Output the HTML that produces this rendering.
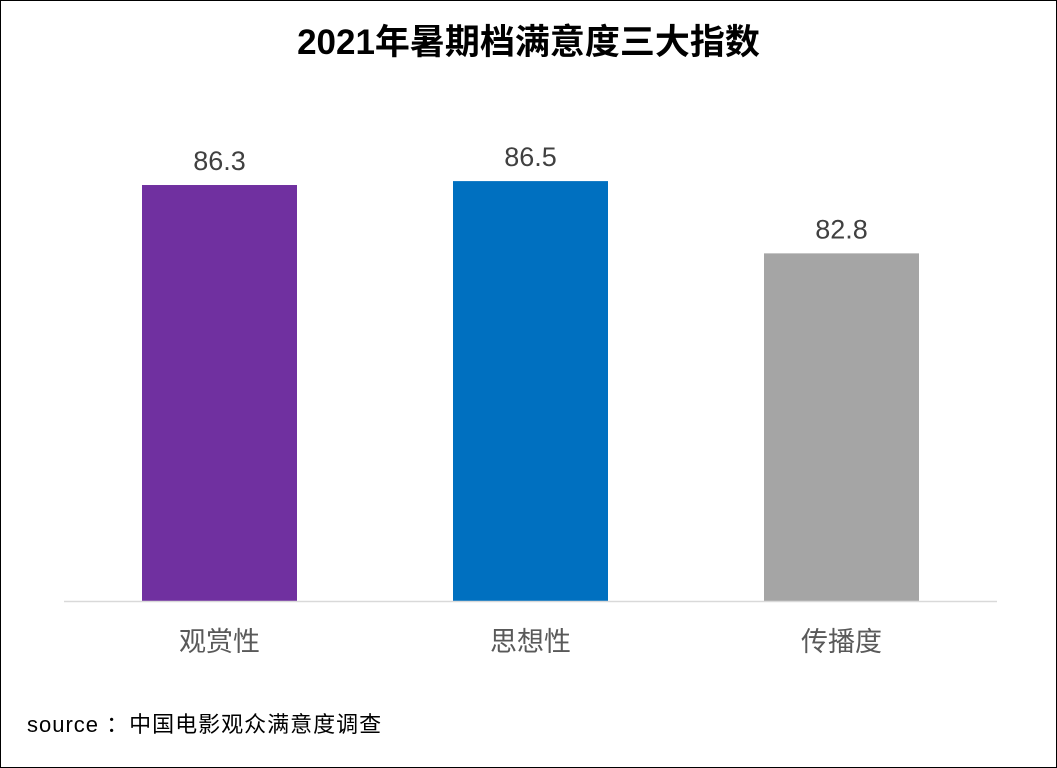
<!DOCTYPE html>
<html><head><meta charset="utf-8"><style>
body{margin:0;background:#fff;}
#wrap{position:relative;width:1055px;height:766px;border:1px solid #000;overflow:hidden;font-family:"Liberation Sans","Noto Sans CJK SC",sans-serif;}
#title{position:absolute;left:0;width:1055px;top:13px;text-align:center;font-size:35px;font-weight:bold;color:#000;}
#source{position:absolute;left:26px;top:706px;font-size:22px;letter-spacing:1px;color:#000;}
</style></head><body>
<div id="wrap">
<div id="title">2021年暑期档满意度三大指数</div>
<svg id="chart" width="1055" height="766" style="position:absolute;left:0;top:0"></svg>
<div id="source">source ：中国电影观众满意度调查</div>
</div>
<script>
const categories=["观赏性","思想性","传播度"];
const values=[86.3,86.5,82.8];
const valueLabels=["86.3","86.5","82.8"];
const colors=["#7030A0","#0070C0","#A5A5A5"];
const svg=document.getElementById('chart');
const NS='http://www.w3.org/2000/svg';
const baseY=600, yMin=65, pxPer=19.53;
const x0=63, plotW=933, band=plotW/categories.length, barW=155;
function yScale(v){return baseY-(v-yMin)*pxPer;}
function xCenter(i){return x0+band*(i+0.5);}
categories.forEach((c,i)=>{
  const r=document.createElementNS(NS,'rect');
  
  
  const y=yScale(values[i]);
  r.setAttribute('x',xCenter(i)-barW/2);r.setAttribute('y',y);
  r.setAttribute('width',barW);r.setAttribute('height',baseY-y);
  r.setAttribute('fill',colors[i]);svg.appendChild(r);
  const t=document.createElementNS(NS,'text');
  
  
  t.setAttribute('x',xCenter(i));t.setAttribute('y',y-15);
  t.setAttribute('text-anchor','middle');t.setAttribute('font-size','27');
  t.setAttribute('fill','#404040');t.textContent=valueLabels[i];svg.appendChild(t);
  const l=document.createElementNS(NS,'text');
  
  
  l.setAttribute('x',xCenter(i));l.setAttribute('y',650);
  l.setAttribute('text-anchor','middle');l.setAttribute('font-size','27');
  l.setAttribute('fill','#595959');l.textContent=c;svg.appendChild(l);
});
const ax=document.createElementNS(NS,'line');


ax.setAttribute('x1',x0);ax.setAttribute('x2',x0+plotW);
ax.setAttribute('y1',baseY+0.5);ax.setAttribute('y2',baseY+0.5);
ax.setAttribute('stroke','#D9D9D9');ax.setAttribute('stroke-width','1.5');
svg.appendChild(ax);
</script>
</body></html>
